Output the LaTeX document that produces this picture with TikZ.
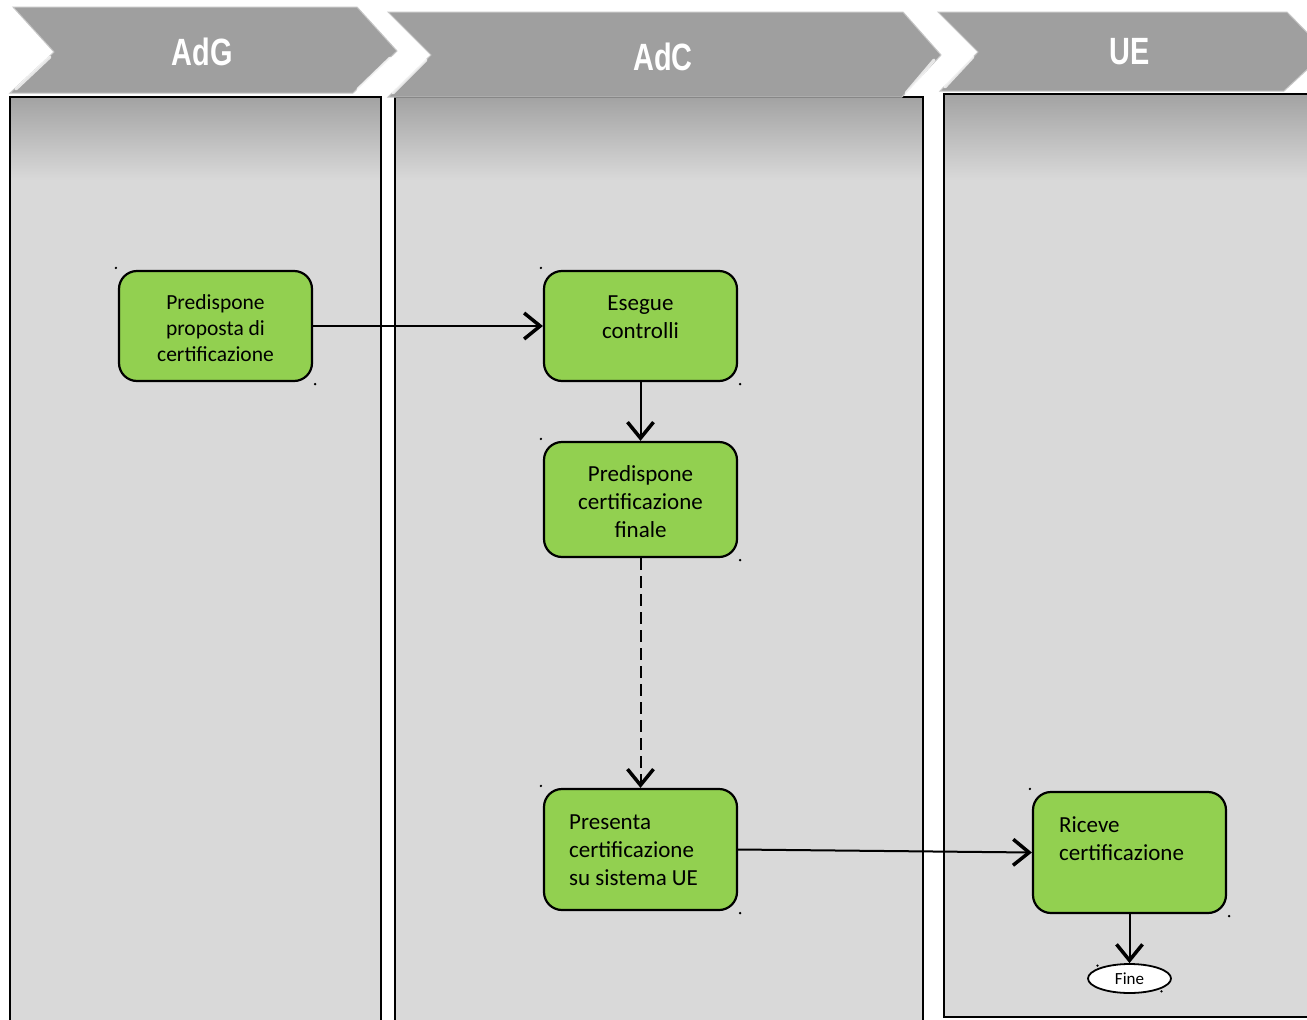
\documentclass[tikz,border=0pt]{standalone}
\usepackage{fontspec}
\setmainfont{Carlito}
\newfontfamily\hdrfont[FakeStretch=0.76]{Liberation Sans}
\usetikzlibrary{arrows.meta,shapes.geometric}
\definecolor{lanegray}{HTML}{D9D9D9}
\definecolor{hdrgray}{HTML}{9F9F9F}
\definecolor{shadowgray}{HTML}{A3A3A3}
\definecolor{boxgreen}{HTML}{92D050}
\tikzset{
  lane/.style={draw=black, line width=2pt, fill=lanegray},
  header/.style={fill=hdrgray, draw=gray!45, line width=1pt},
  bevel/.style={draw=white, line width=3pt, opacity=0.75, line cap=round},
  hdrtext/.style={text=white, font=\hdrfont\bfseries\fontsize{38}{40}\selectfont},
  box/.style={draw=black, line width=2.2pt, fill=boxgreen, rounded corners=18pt,
    minimum width=193pt, inner sep=0pt},
  txt/.style={align=center, inner sep=0pt, font=\fontsize{23}{28}\selectfont},
  txtl/.style={align=left, inner sep=0pt, anchor=west, font=\fontsize{23}{28}\selectfont},
  conn/.style={draw=black, line width=2pt,
    -{Straight Barb[length=16pt,width=26pt,line width=3.5pt]}},
  dot/.style={fill=black}
}
\newcommand\cornermarks[1]{%
  \fill[dot] ([xshift=-2pt,yshift=2pt]#1.north west) circle (1.3pt);
  \fill[dot] ([xshift=2pt,yshift=-2pt]#1.south east) circle (1.3pt);}
\begin{document}
\begin{tikzpicture}[x=1pt,y=-1pt]
\clip (0,0) rectangle (1307,1020);
\fill[white] (0,0) rectangle (1307,1020);

% lanes
\path[lane] (10,97) rectangle (381,1040);
\path[lane] (395,97) rectangle (923,1040);
\path[lane] (944,94) rectangle (1320,1017);
\shade[top color=shadowgray, bottom color=lanegray] (11,98) rectangle (380,180);
\shade[top color=shadowgray, bottom color=lanegray] (396,98) rectangle (922,180);
\shade[top color=shadowgray, bottom color=lanegray] (945,95) rectangle (1319,180);
\draw[line width=2pt] (10,1040) -- (10,97) -- (381,97) -- (381,1040);
\draw[line width=2pt] (395,1040) -- (395,97) -- (923,97) -- (923,1040);
\draw[line width=2pt] (1320,94) -- (944,94) -- (944,1017) -- (1320,1017);

% headers
\path[header] (13,7) -- (357,7) -- (397,51) -- (353,93) -- (10,93) -- (54,52) -- cycle;
\path[header] (388,12) -- (903,12) -- (941,55) -- (902,97) -- (388,97) -- (431,55) -- cycle;
\path[header] (938,12) -- (1287,12) -- (1326,52) -- (1284,91) -- (940,91) -- (978,52) -- cycle;
\draw[bevel] (50,57) -- (16,89);
\draw[bevel] (390,58) -- (358,89);
\draw[bevel] (426,60) -- (393,93);
\draw[bevel] (934,60) -- (906,93);
\draw[bevel] (973,57) -- (945,87);
\node[hdrtext] (hA) at (202,52) {AdG};
\node[hdrtext] (hB) at (663,57) {AdC};
\node[hdrtext] (hC) at (1130,52) {UE};

% boxes
\node[box, minimum height=110pt] (b1) at (215.5,326) {};
\node[txt, font=\fontsize{21.5}{26}\selectfont] (t1) at (215.5,328) {Predispone\\proposta di\\certificazione};
\node[box, minimum height=110pt] (b2) at (640.5,326) {};
\node[txt] (t2) at (640.5,317) {Esegue\\controlli};
\node[box, minimum height=115pt] (b3) at (640.5,499.5) {};
\node[txt] (t3) at (640.5,502) {Predispone\\certificazione\\finale};
\node[box, minimum height=121pt] (b4) at (640.5,849.5) {};
\node[txtl] (t4) at (569,850) {Presenta\\certificazione\\su sistema UE};
\node[box, minimum height=121pt] (b5) at (1129.5,852.5) {};
\node[txtl] (t5) at (1059,839) {Riceve\\certificazione};
\node[ellipse, draw=black, line width=1.8pt, fill=white, minimum width=83pt,
  minimum height=29pt, inner sep=0pt, font=\fontsize{17}{20}\selectfont] (fine) at (1129.5,978.5) {Fine};

\cornermarks{b1}
\cornermarks{b2}
\cornermarks{b3}
\cornermarks{b4}
\cornermarks{b5}
\cornermarks{fine}

% connectors
\draw[conn] (b1.east) -- (b2.west);
\draw[conn] (b2.south) -- (b3.north);
\draw[conn, dash pattern=on 12pt off 6pt] (b3.south) -- (b4.north);
\draw[conn] (b4.east) -- (b5.west);
\draw[conn] (b5.south) -- (fine.north);
\end{tikzpicture}
\end{document}
